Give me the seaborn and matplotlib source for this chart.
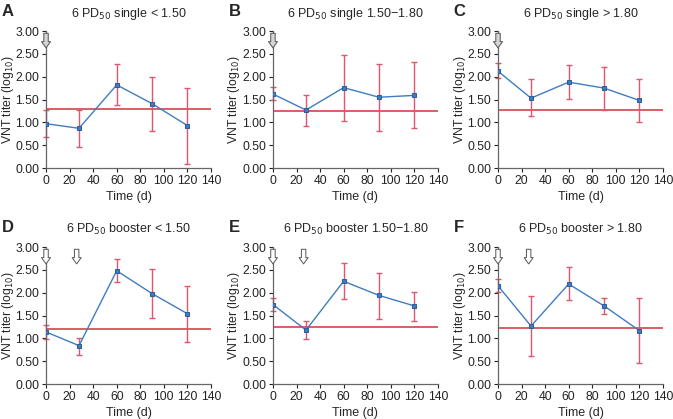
import numpy as np
import pandas as pd
import matplotlib
matplotlib.use('Agg')
import matplotlib.pyplot as plt
import seaborn as sns

days = [0, 28, 60, 90, 120]

titles = ['6 PD$_{50}$ single < 1.50', '6 PD$_{50}$ single 1.50\u22121.80', '6 PD$_{50}$ single > 1.80',
          '6 PD$_{50}$ booster < 1.50', '6 PD$_{50}$ booster 1.50\u22121.80', '6 PD$_{50}$ booster > 1.80']
letters = ['A', 'B', 'C', 'D', 'E', 'F']

mean_A = [0.97, 0.87, 1.82, 1.41, 0.93]
low_A = [0.68, 0.47, 1.38, 0.81, 0.09]
high_A = [1.28, 1.28, 2.27, 1.99, 1.76]

mean_B = [1.62, 1.27, 1.76, 1.55, 1.59]
low_B = [1.50, 0.91, 1.04, 0.82, 0.87]
high_B = [1.78, 1.60, 2.48, 2.27, 2.32]

mean_C = [2.12, 1.53, 1.88, 1.75, 1.48]
low_C = [1.98, 1.13, 1.51, 1.28, 1.01]
high_C = [2.29, 1.94, 2.25, 2.21, 1.95]

mean_D = [1.14, 0.84, 2.48, 1.98, 1.54]
low_D = [0.98, 0.64, 2.24, 1.44, 0.93]
high_D = [1.30, 1.01, 2.73, 2.51, 2.14]

mean_E = [1.74, 1.18, 2.25, 1.94, 1.71]
low_E = [1.60, 0.98, 1.86, 1.42, 1.38]
high_E = [1.89, 1.38, 2.65, 2.44, 2.02]

mean_F = [2.15, 1.27, 2.19, 1.71, 1.17]
low_F = [2.02, 0.62, 1.84, 1.54, 0.45]
high_F = [2.31, 1.92, 2.57, 1.89, 1.89]

cutoff = [1.29, 1.25, 1.27, 1.20, 1.25, 1.23]
dose_days = [[0], [0], [0], [0, 26], [0, 26], [0, 26]]

means = [mean_A, mean_B, mean_C, mean_D, mean_E, mean_F]
lows = [low_A, low_B, low_C, low_D, low_E, low_F]
highs = [high_A, high_B, high_C, high_D, high_E, high_F]

sns.set_style('ticks')
plt.rcParams['font.family'] = ['Liberation Sans', 'DejaVu Sans']

fig = plt.figure(figsize=(6.73, 4.19), dpi=100)
lefts = [0.0684, 0.4056, 0.740]
bottoms = [0.599, 0.0835]
w, h = 0.245, 0.327

for i in range(6):
    ax = fig.add_axes([lefts[i % 3], bottoms[i // 3], w, h])
    m = np.array(means[i]); lo = np.array(lows[i]); hi = np.array(highs[i])
    ax.errorbar(days, m, yerr=[m - lo, hi - m], fmt='none', ecolor='#e0566e',
                elinewidth=1.0, capsize=2.5, capthick=1.0, zorder=2, clip_on=False)
    ax.axhline(cutoff[i], color='#d2323c', lw=1.1, zorder=1)
    df = pd.DataFrame({'Time': days, 'titer': m})
    sns.lineplot(data=df, x='Time', y='titer', ax=ax, color='#3f7dbf', lw=1.0,
                 marker='s', markersize=3.5, markeredgecolor='#2f5f9f', zorder=3)
    for k, d in enumerate(dose_days[i]):
        fc = '#d5d5d5' if (k == 0 and i < 3) else 'white'
        ax.annotate('', xy=(d, 2.63), xytext=(d, 2.95),
                    arrowprops=dict(arrowstyle='simple,head_length=0.45,head_width=0.65,tail_width=0.32',
                                    fc=fc, ec='#555555', lw=0.7, shrinkA=0, shrinkB=0),
                    annotation_clip=False)
    ax.set_xlim(0, 140)
    ax.set_ylim(0, 3)
    ax.set_xticks(range(0, 141, 20))
    ax.set_yticks(np.arange(0, 3.01, 0.5))
    ax.set_yticklabels(['%.2f' % v for v in np.arange(0, 3.01, 0.5)])
    ax.tick_params(labelsize=8.7, length=3, width=0.8, colors='#222222', pad=2)
    for s in ['left', 'bottom']:
        ax.spines[s].set_color('#666666')
        ax.spines[s].set_linewidth(0.9)
    sns.despine(ax=ax)
    ax.set_xlabel('Time (d)', fontsize=9, labelpad=3)
    ax.set_ylabel('VNT titer (log$_{10}$)', fontsize=8.8)
    ax.yaxis.set_label_coords(-0.185, 0.5)
    ax.set_title(titles[i], fontsize=9, pad=10)
    ax.text(-0.27, 1.2, letters[i], transform=ax.transAxes, fontsize=12,
            fontweight='bold', va='top', ha='left')

fig.savefig('out.png', dpi=100)
